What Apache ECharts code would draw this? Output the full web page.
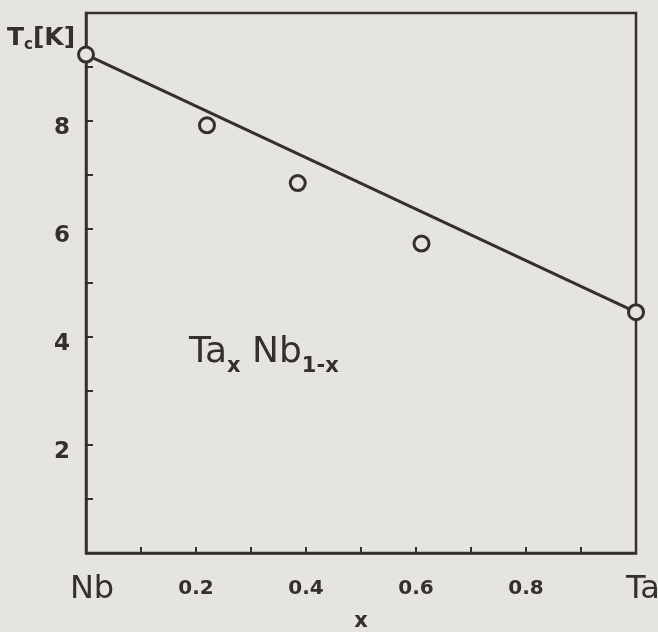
<!DOCTYPE html>
<html>
<head>
<meta charset="utf-8">
<script src="https://cdn.jsdelivr.net/npm/echarts@6/dist/echarts.min.js"></script>
<style>
html,body{margin:0;padding:0;background:#e6e4e0;}
#chart{width:658px;height:632px;}
</style>
</head>
<body>
<div id="chart"></div>
<script>
// measured Tc values (x = Ta fraction)
const pointsX = [0, 0.22, 0.385, 0.61, 1];
const pointsTc = [9.23, 7.92, 6.85, 5.73, 4.46];
// straight fit between the two pure elements
const fitX = [0, 1];
const fitTc = [9.23, 4.46];
const xTickLabels = {0: "Nb", 0.2: "0.2", 0.4: "0.4", 0.6: "0.6", 0.8: "0.8", 1: "Ta"};
const yTickLabels = {2: "2", 4: "4", 6: "6", 8: "8"};

const ink = "#33302e";
const paper = "#e6e4e0";
const chart = echarts.init(document.getElementById("chart"));

function keyOf(v){
    return Math.round(v * 10) / 10;
}

chart.setOption({
    backgroundColor: paper,
    animation: false,
    grid: {
        left: 86, right: 22, top: 13, bottom: 79,
        outerBoundsMode: "none",
        show: true, borderColor: ink, borderWidth: 2.5, backgroundColor: "transparent"
    },
    xAxis: {
        type: "value",
        min: 0,
        max: 1,
        interval: 0.1,
        axisLine: {show: true, lineStyle: {color: ink, width: 2.5}},
        axisTick: {show: true, inside: true, length: 6, lineStyle: {color: ink, width: 2}},
        splitLine: {show: false},
        axisLabel: {
            margin: 16,
            color: ink,
            verticalAlign: "top",
            hideOverlap: false,
            formatter: v => {
                const k = keyOf(v);
                const s = xTickLabels[k];
                if (!s) return "";
                if (k === 0) return "{nb|" + s + "}";
                if (k === 1) return "{ta|" + s + "}";
                return "{sm|" + s + "}";
            },
            rich: {
                nb: {fontFamily: "DejaVu Sans", fontSize: 32, color: ink, padding: [5, 0, 0, 12]},
                ta: {fontFamily: "DejaVu Sans", fontSize: 32, color: ink, padding: [5, 0, 0, 14]},
                sm: {fontFamily: "DejaVu Sans", fontWeight: "bold", fontSize: 20, color: ink, padding: [10, 0, 0, 0]}
            }
        },
        name: "x",
        nameLocation: "middle",
        nameGap: 53,
        nameTextStyle: {fontFamily: "DejaVu Sans", fontWeight: "bold", fontSize: 21, color: ink}
    },
    yAxis: {
        type: "value",
        min: 0,
        max: 10,
        interval: 1,
        axisLine: {show: true, lineStyle: {color: ink, width: 2.5}},
        axisTick: {show: true, inside: true, length: 7, lineStyle: {color: ink, width: 2}},
        splitLine: {show: false},
        axisLabel: {
            margin: 16,
            color: ink,
            fontFamily: "DejaVu Sans",
            fontWeight: "bold",
            fontSize: 23,
            verticalAlign: "top",
            lineHeight: 15,
            formatter: v => yTickLabels[Math.round(v)] || ""
        }
    },
    series: [
        {
            type: "line",
            data: fitX.map((x, i) => [x, fitTc[i]]),
            showSymbol: false,
            lineStyle: {color: ink, width: 3},
            z: 2
        },
        {
            type: "scatter",
            data: pointsX.map((x, i) => [x, pointsTc[i]]),
            symbol: "circle",
            symbolSize: 15,
            itemStyle: {color: paper, borderColor: ink, borderWidth: 3, opacity: 1},
            z: 3,
            clip: false
        }
    ],
    graphic: [
        {
            type: "text",
            left: 7,
            top: 26,
            style: {
                text: "{t|T}{s|c}{t|[K]}",
                fill: ink,
                rich: {
                    t: {fontFamily: "DejaVu Sans", fontWeight: "bold", fontSize: 25, fill: ink},
                    s: {fontFamily: "DejaVu Sans", fontWeight: "bold", fontSize: 15, fill: ink, padding: [14, 0, 0, 0]}
                }
            }
        },
        {
            type: "text",
            left: 189,
            top: 335,
            style: {
                text: "{t|Ta}{s|x}{t| Nb}{s|1-x}",
                fill: ink,
                rich: {
                    t: {fontFamily: "DejaVu Sans", fontSize: 36, fill: ink},
                    s: {fontFamily: "DejaVu Sans", fontWeight: "bold", fontSize: 21, fill: ink, padding: [28, 0, 0, 0]}
                }
            }
        }
    ]
});
</script>
</body>
</html>
